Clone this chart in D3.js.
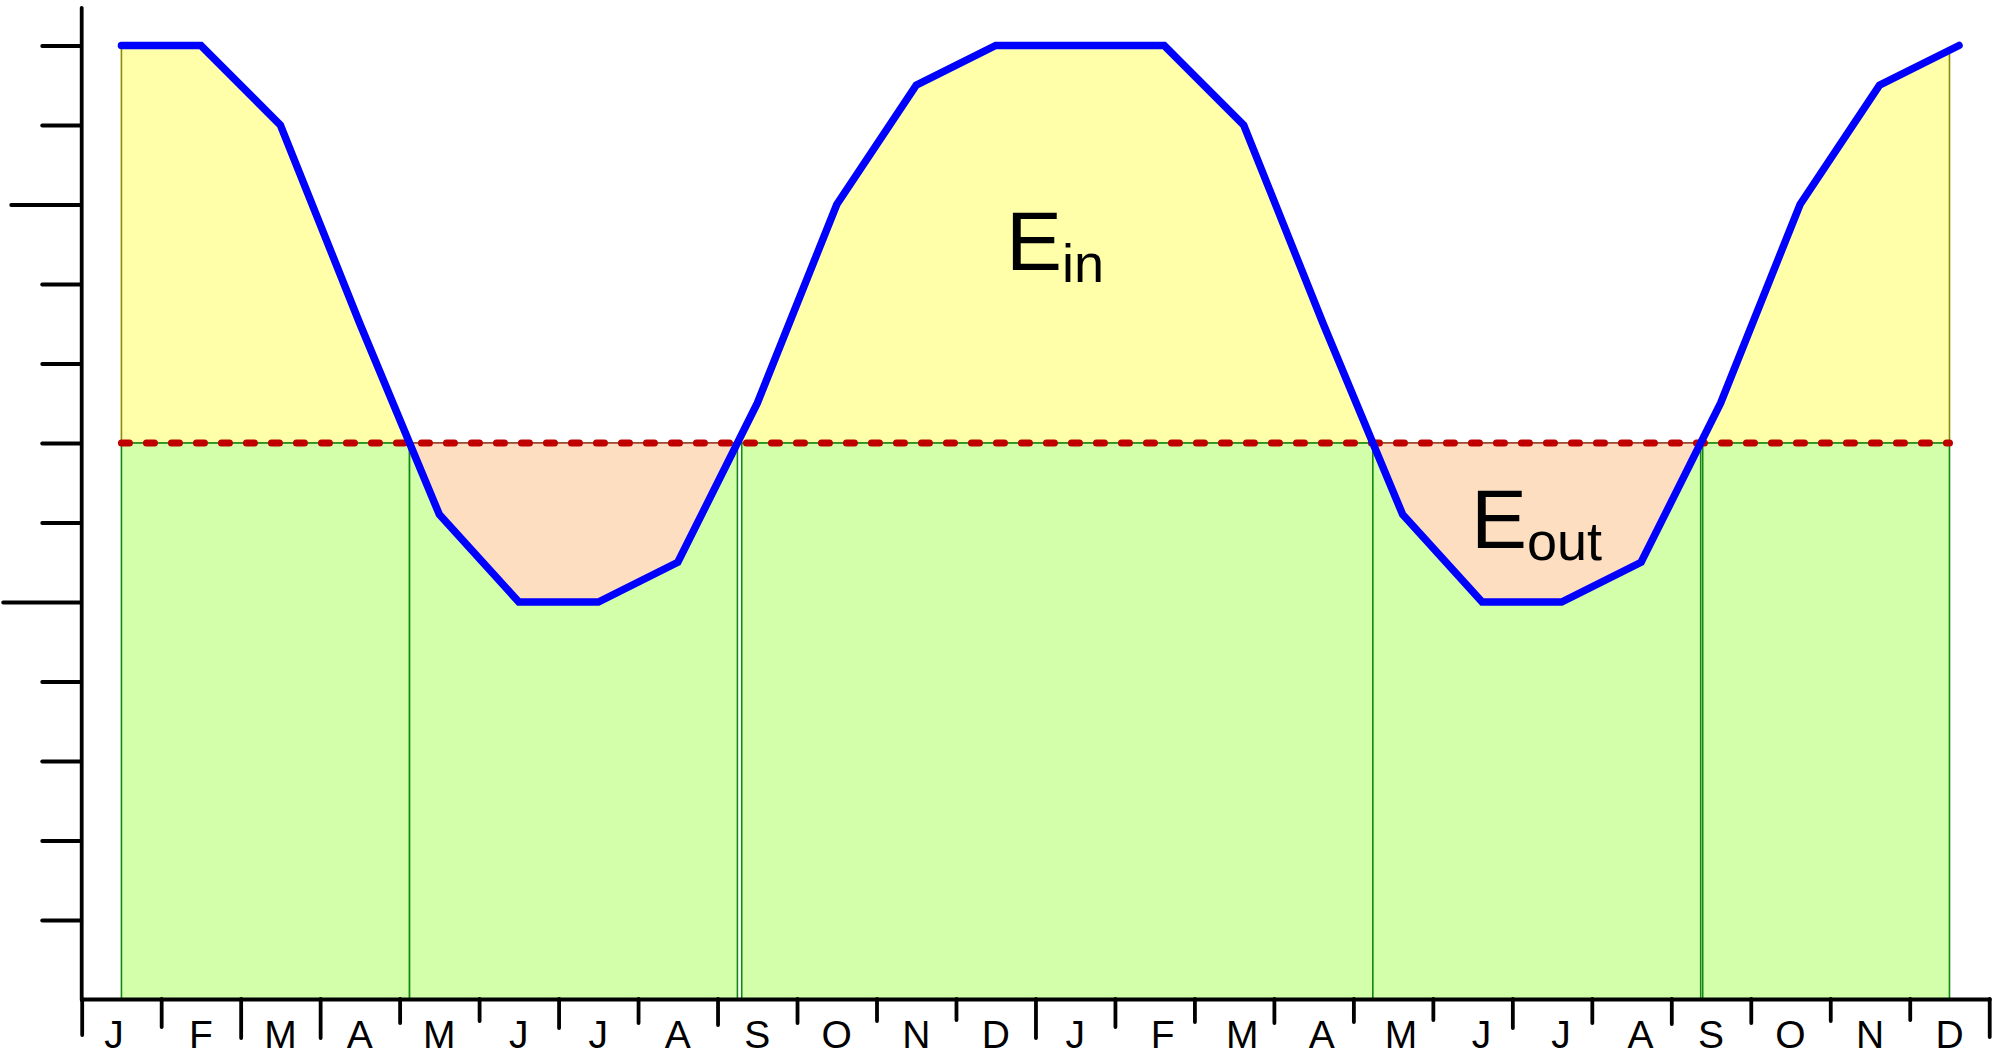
<!DOCTYPE html>
<html><head><meta charset="utf-8">
<script src="https://cdn.jsdelivr.net/npm/d3@7"></script>
<style>html,body{margin:0;padding:0;background:#fff;overflow:hidden}svg{display:block}</style>
</head><body>
<svg id="chart" width="2000" height="1057"></svg>
<script>
// ---------- data ----------
const monthLabels = ["J","F","M","A","M","J","J","A","S","O","N","D",
                     "J","F","M","A","M","J","J","A","S","O","N","D"];
// position of each storage reading, in months from the start of the axis
const monthX = [0.5,1.5,2.5,3.5,4.5,5.5,6.5,7.5,8.5,9.5,10.5,11.5,
                12.62,13.62,14.62,15.62,16.62,17.62,18.62,19.62,20.62,21.62,22.62,23.62];
const storage = [12,12,11,8.5,6.1,5,5,5.5,7.5,10,11.5,12,
                 12,12,11,8.5,6.1,5,5,5.5,7.5,10,11.5,12];
const demandLevel = 7;
const spanStart = 0.5, spanEnd = 23.5;
const yTickValues = [1,2,3,4,5,6,7,8,9,10,11,12];
const xTickValues = [0,1,2,3,4,5,6,7,8,9,10,11,12,13,14,15,16,17,18,19,20,21,22,23,24];
const annotations = [
  {main: "E", sub: "in",  m: 11.63, v: 9.18},
  {main: "E", sub: "out", m: 17.48, v: 5.68}
];

// ---------- style ----------
const FONT = "'Liberation Sans', Arial, Helvetica, sans-serif";
const C = {
  yellow: "#FFFFAA", yellowStroke: "#8C8C00",
  green: "#D4FFAA", greenStroke: "#128A12",
  peach: "#FDDEC1", peachStroke: "#A8382C",
  dash: "#C00000", line: "#0000FF", axis: "#000"
};
const xTickLen = [36,28,39,39,24,22,29,24,26,24,22,21,39,28,23,24,23,21,29,24,25,24,22,21,38];
const labelDx = [-7.5,0,0,0,0,0,0,0,0,0,0,0, 0,8,8,8,8,9,9,9,0,0,0,0];
const labelBaseline = 1048.3;
const greenStartGap = [0, 0, 4.3, 0, 2]; // px nudges of rectangle left edges

// ---------- scales ----------
const x = d3.scaleLinear().domain([0, 24]).range([81.7, 81.7 + 24 * 79.48]);
const yTop = 12.48;
const y = d3.scaleLinear().domain([0, yTop]).range([999.5, 999.5 - yTop * 79.5]);

const svg = d3.select("#chart");

// ---------- geometry helpers ----------
const pts = monthX.map((m, i) => ({x: m, v: storage[i]}));
function valueAt(px) {
  for (let i = 0; i < pts.length - 1; i++) {
    const a = pts[i], b = pts[i + 1];
    if (px >= a.x && px <= b.x) return a.v + (b.v - a.v) * (px - a.x) / (b.x - a.x);
  }
  return pts[pts.length - 1].v;
}
const clipped = [{x: spanStart, v: valueAt(spanStart)}]
  .concat(pts.filter(p => p.x > spanStart && p.x < spanEnd))
  .concat([{x: spanEnd, v: valueAt(spanEnd)}]);

const regions = [];
const crossings = [];
let cur = {above: clipped[0].v >= demandLevel, pts: [clipped[0]]};
for (let i = 1; i < clipped.length; i++) {
  const a = clipped[i - 1], b = clipped[i];
  if ((a.v - demandLevel) * (b.v - demandLevel) < 0) {
    const t = (demandLevel - a.v) / (b.v - a.v);
    const c = {x: a.x + t * (b.x - a.x), v: demandLevel};
    crossings.push(c.x);
    cur.pts.push(c);
    regions.push(cur);
    cur = {above: b.v > demandLevel, pts: [c]};
  }
  cur.pts.push(b);
}
regions.push(cur);

const area = d3.area().x(d => x(d.x)).y0(y(demandLevel)).y1(d => y(d.v));

// ---------- yellow (surplus) ----------
svg.append("g").selectAll("path").data(regions.filter(r => r.above)).join("path")
  .attr("d", r => area(r.pts))
  .attr("fill", C.yellow).attr("stroke", C.yellowStroke).attr("stroke-width", 1.6);

// ---------- green (demand) ----------
const edges = [spanStart].concat(crossings).concat([spanEnd]);
const rects = d3.range(edges.length - 1).map(i => ({a: edges[i], b: edges[i + 1], gap: greenStartGap[i] || 0}));
svg.append("g").selectAll("rect").data(rects).join("rect")
  .attr("x", d => x(d.a) + d.gap)
  .attr("width", d => x(d.b) - x(d.a) - d.gap)
  .attr("y", y(demandLevel))
  .attr("height", y(0) - y(demandLevel))
  .attr("fill", C.green).attr("stroke", C.greenStroke).attr("stroke-width", 1.6);

// ---------- peach (deficit) ----------
svg.append("g").selectAll("path").data(regions.filter(r => !r.above)).join("path")
  .attr("d", r => area(r.pts))
  .attr("fill", C.peach).attr("stroke", C.peachStroke).attr("stroke-width", 1.6);

// ---------- dashed demand line ----------
svg.append("line")
  .attr("x1", x(spanStart)).attr("x2", x(spanEnd))
  .attr("y1", y(demandLevel)).attr("y2", y(demandLevel))
  .attr("stroke", C.dash).attr("stroke-width", 7)
  .attr("stroke-dasharray", "8 17").attr("stroke-linecap", "round");

// ---------- storage line ----------
svg.append("path").datum(pts)
  .attr("d", d3.line().x(d => x(d.x)).y(d => y(d.v)))
  .attr("fill", "none").attr("stroke", C.line).attr("stroke-width", 7.5)
  .attr("stroke-linecap", "round").attr("stroke-linejoin", "miter");

// ---------- annotations ----------
const ann = svg.append("g").selectAll("text").data(annotations).join("text")
  .attr("x", d => x(d.m)).attr("y", d => y(d.v))
  .attr("font-family", FONT).attr("font-size", 84).attr("fill", "#000");
ann.append("tspan").text(d => d.main);
ann.append("tspan").attr("font-size", 54).attr("dy", 12).text(d => d.sub);

// ---------- axes ----------
const yAxis = svg.append("g").attr("transform", `translate(${x(0) - 0.5},0)`)
  .call(d3.axisLeft(y).tickValues(yTickValues).tickSize(39).tickSizeOuter(0).tickFormat(""));
yAxis.select(".domain").attr("stroke", C.axis).attr("stroke-width", 3.8).attr("stroke-linecap", "round");
yAxis.selectAll(".tick line")
  .attr("x2", d => d === 10 ? -70 : d === 5 ? -78 : -39)
  .attr("stroke", C.axis).attr("stroke-width", 3.8).attr("stroke-linecap", "round");

const xAxis = svg.append("g").attr("transform", `translate(0,${y(0) - 0.5})`)
  .call(d3.axisBottom(x).tickValues(xTickValues).tickSizeOuter(0).tickFormat(""));
xAxis.select(".domain").attr("stroke", C.axis).attr("stroke-width", 4).attr("stroke-linecap", "round");
xAxis.selectAll(".tick line")
  .attr("y2", (d, i) => xTickLen[i])
  .attr("stroke", C.axis).attr("stroke-width", 3.8).attr("stroke-linecap", "round");

// month labels, centred between ticks
svg.append("g").selectAll("text").data(monthLabels).join("text")
  .attr("x", (d, i) => x(i + 0.5) + labelDx[i])
  .attr("y", labelBaseline)
  .attr("text-anchor", "middle")
  .attr("font-family", FONT).attr("font-size", 39).attr("fill", "#000")
  .text(d => d);
</script>
</body></html>
